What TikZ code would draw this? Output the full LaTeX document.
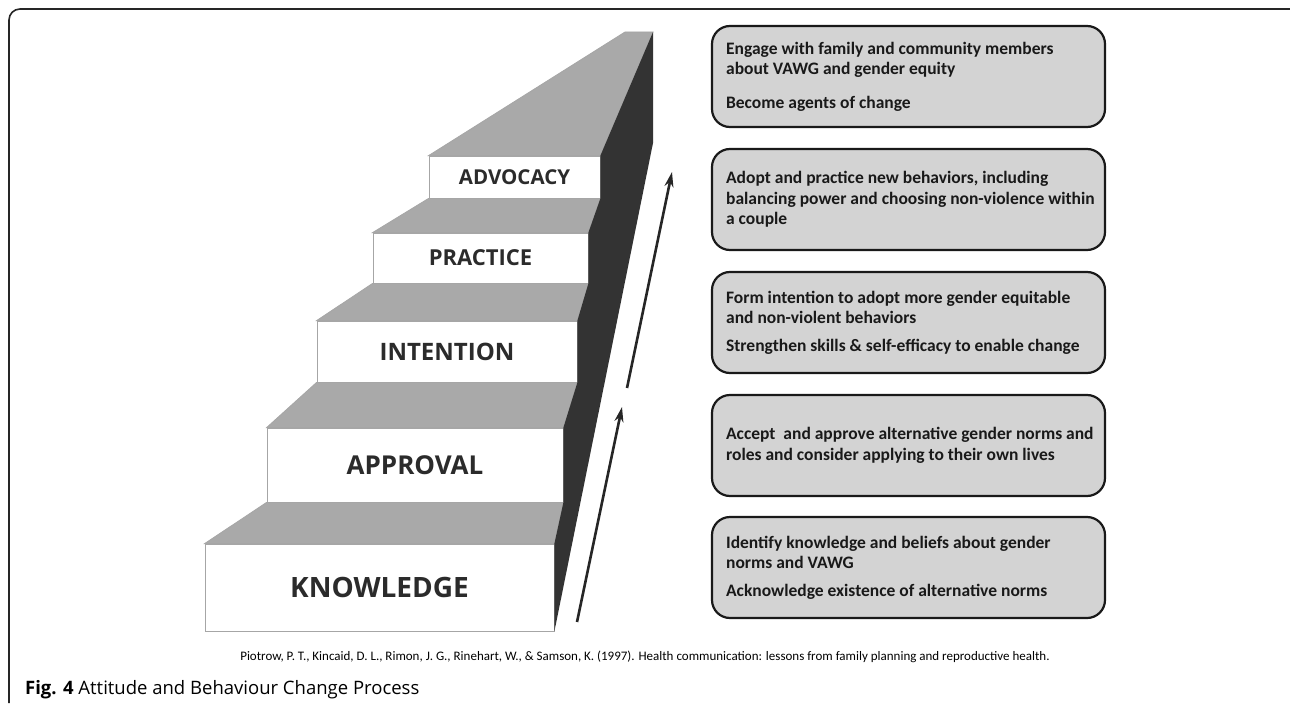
\documentclass[tikz,border=0pt]{standalone}
\usepackage{fontspec}
\setmainfont{Carlito}
\newfontfamily\stairfont{Open Sans}
\newfontfamily\capfont{Open Sans}
\usetikzlibrary{arrows.meta}
\definecolor{stairtop}{HTML}{A9A9A9}
\definecolor{stairside}{HTML}{333333}
\definecolor{stairtext}{HTML}{2B2B2B}
\definecolor{boxfill}{HTML}{D3D3D3}

\begin{document}
\begin{tikzpicture}[x=1pt, y=-1pt,
  front/.style={shape=rectangle, draw=gray!70, line width=0.8pt, fill=white, inner sep=0pt, text=stairtext},
  tread/.style={draw=gray!70, line width=0.8pt, fill=stairtop},
  panel/.style={shape=rectangle, rounded corners=18pt, draw=black!90, line width=2.2pt, fill=boxfill, minimum width=393pt, minimum height=101pt},
  paneltext/.style={anchor=west, inner sep=0pt, align=left, text=black!90, font=\bfseries\fontsize{17.5}{20.5}\selectfont},
  uparrow/.style={draw=black!85, line width=2.6pt, -{Stealth[length=15pt, width=9pt]}}]
\useasboundingbox (0,0) rectangle (1290,706);
% frame
\draw[line width=1.6pt, black!85, rounded corners=11pt] (1290,9) -- (9,9) -- (9,703);

% step fronts
\foreach \n/\x/\y/\w/\h/\s/\t in {kn/379.5/587.5/349/87/28/KNOWLEDGE, ap/415/465/296/74/26/APPROVAL,
  in/447/351.5/260/61/24/INTENTION, pr/480.5/258/215/50/22/PRACTICE, ad/514.5/177/171/42/20.5/ADVOCACY}{
  \node[front, minimum width=\w pt, minimum height=\h pt, font=\stairfont\bfseries\fontsize{\s}{\s}\selectfont] (\n) at (\x,\y) {\t};
}

% treads
\coordinate (tl) at (625,32);
\coordinate (tr) at (653,32);
\coordinate (rm) at (653,143);
\draw[tread] (ad.north west) -- (ad.north east) -- (tr) -- (tl) -- cycle;
\foreach \lo/\hi in {pr/ad, in/pr, ap/in, kn/ap}{
  \draw[tread] (\lo.north west) -- (\lo.north east) -- (\hi.south east) -- (\hi.south west) -- cycle;
}

% dark side
\fill[stairside] (tr) -- (ad.north east) -- (ad.south east) -- (pr.north east) -- (pr.south east)
  -- (in.north east) -- (in.south east) -- (ap.north east) -- (ap.south east)
  -- (kn.north east) -- (kn.south east) -- (rm) -- cycle;

% arrows
\coordinate (lo1) at (577,622);
\coordinate (lo2) at (622,407);
\coordinate (hi1) at (627,388);
\coordinate (hi2) at (672,172);
\draw[uparrow] (lo1) -- (lo2);
\draw[uparrow] (hi1) -- (hi2);

% boxes
\foreach \i/\y in {1/76.5, 2/199.5, 3/322.5, 4/445.5, 5/567.5}{
  \node[panel] (b\i) at (908.5,\y) {};
}
\node[paneltext] (t1) at ([xshift=15pt]b1.west) {Engage with family and community members\\ about VAWG and gender equity\\[13pt] Become agents of change};
\node[paneltext] (t2) at ([xshift=15pt]b2.west) {Adopt and practice new behaviors, including\\ balancing power and choosing non-violence within\\ a couple};
\node[paneltext] (t3) at ([xshift=15pt]b3.west) {Form intention to adopt more gender equitable\\ and non-violent behaviors\\[7pt] Strengthen skills \& self-efficacy to enable change};
\node[paneltext] (t4) at ([xshift=15pt]b4.west) {Accept~ and approve alternative gender norms and\\ roles and consider applying to their own lives};
\node[paneltext] (t5) at ([xshift=15pt]b5.west) {Identify knowledge and beliefs about gender\\ norms and VAWG\\[7pt] Acknowledge existence of alternative norms};

% source and caption
\node[font=\fontsize{13}{15}\selectfont] (cite) at (645,657) {Piotrow, P. T., Kincaid, D. L., Rimon, J. G., Rinehart, W., \& Samson, K. (1997). Health communication: lessons from family planning and reproductive health.};
\node[anchor=base west, inner sep=0pt, font=\capfont\fontsize{18.5}{22}\selectfont] (cap) at (25,694) {\textbf{Fig. 4} Attitude and Behaviour Change Process};
\end{tikzpicture}
\end{document}
